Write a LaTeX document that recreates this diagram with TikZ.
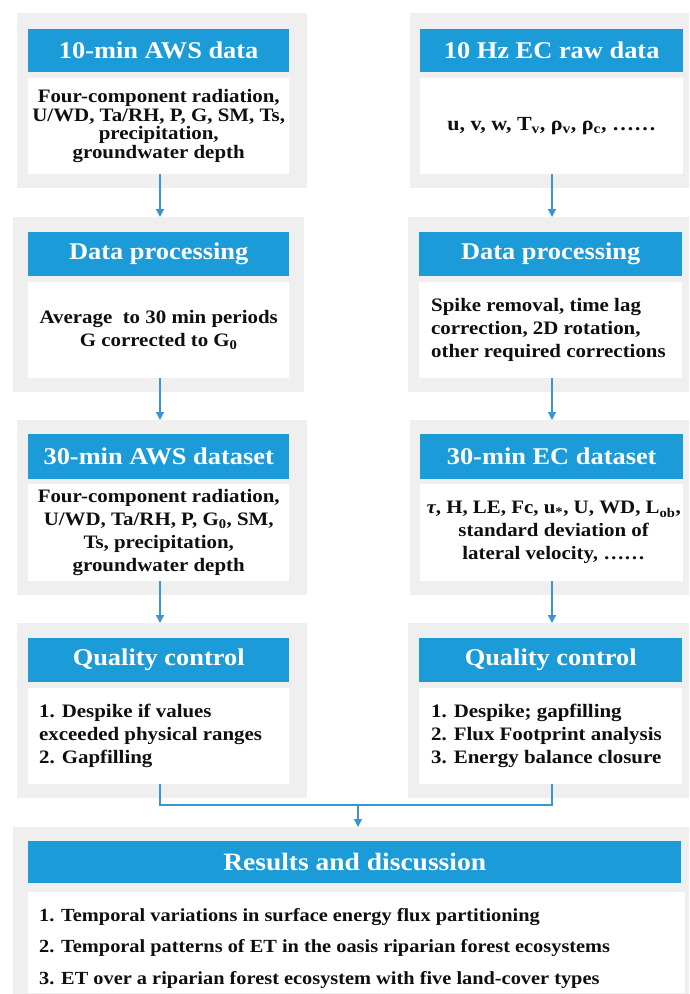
\documentclass[tikz,border=0pt]{standalone}
\usepackage{fontspec}
\setmainfont{Liberation Serif}[FakeStretch=1.1]
\usetikzlibrary{arrows.meta}
\definecolor{hdrblue}{RGB}{27,155,215}
\definecolor{panelgrey}{RGB}{239,239,239}
\definecolor{lineblue}{RGB}{58,150,210}
\definecolor{ink}{RGB}{15,15,15}
\begin{document}
\begin{tikzpicture}[x=1pt,y=-1pt,
  panel/.style={fill=panelgrey,draw=none,inner sep=0pt,anchor=north west},
  hdr/.style={fill=hdrblue,draw=none,inner sep=0pt,anchor=north west,text=white,
    font=\fontsize{24}{28}\selectfont\bfseries},
  bodybox/.style={fill=white,draw=none,inner sep=0pt,anchor=north west},
  btext/.style={text=ink,inner sep=0pt,font=\fontsize{19}{18.5}\selectfont\bfseries},
  btextwide/.style={text=ink,inner sep=0pt,font=\fontsize{19}{23}\selectfont\bfseries},
  conn/.style={draw=lineblue,line width=1.4pt},
  arr/.style={conn,-{Triangle[width=8pt,length=8pt]}}]
\useasboundingbox (0,0) rectangle (689,994);
\fill[white] (0,0) rectangle (689,994);

% ---------- Row 1 ----------
\node[panel,minimum width=290,minimum height=175] (pA1) at (17,13) {};
\node[hdr,minimum width=261,minimum height=43] (hA1) at (28,29) {10-min AWS data};
\node[bodybox,minimum width=261,minimum height=96] (bA1) at (28,78) {};
\node[btext,align=center] (tA1) at (bA1.center) {Four-component radiation,\\U/WD, Ta/RH, P, G, SM, Ts,\\precipitation,\\groundwater depth};

\node[panel,minimum width=279,minimum height=175] (pB1) at (410,13) {};
\node[hdr,minimum width=263,minimum height=43] (hB1) at (420,29) {10 Hz EC raw data};
\node[bodybox,minimum width=263,minimum height=96] (bB1) at (420,78) {};
\node[btext,align=center,font=\fontsize{20}{20}\selectfont\bfseries] (tB1) at (bB1.center) {u, v, w, T\textsubscript{v}, ρ\textsubscript{v}, ρ\textsubscript{c}, ……};

% ---------- Row 2 ----------
\node[panel,minimum width=291,minimum height=175] (pA2) at (13,217) {};
\node[hdr,minimum width=261,minimum height=44] (hA2) at (28,232) {Data processing};
\node[bodybox,minimum width=261,minimum height=96] (bA2) at (28,282) {};
\node[btextwide,align=center] (tA2) at (bA2.center) {Average\ \ to 30 min periods\\G corrected to G\textsubscript{0}};

\node[panel,minimum width=281,minimum height=175] (pB2) at (408,217) {};
\node[hdr,minimum width=263,minimum height=44] (hB2) at (419,232) {Data processing};
\node[bodybox,minimum width=263,minimum height=96] (bB2) at (419,282) {};
\node[btextwide,align=left,anchor=west] (tB2) at ([xshift=12pt]bB2.west) {Spike removal, time lag\\correction, 2D rotation,\\other required corrections};

% ---------- Row 3 ----------
\node[panel,minimum width=290,minimum height=175] (pA3) at (17,420) {};
\node[hdr,minimum width=261,minimum height=45] (hA3) at (28,434) {30-min AWS dataset};
\node[bodybox,minimum width=261,minimum height=97] (bA3) at (28,484) {};
\node[btextwide,align=center] (tA3) at (bA3.center) {Four-component radiation,\\U/WD, Ta/RH, P, G\textsubscript{0}, SM,\\Ts, precipitation,\\groundwater depth};

\node[panel,minimum width=279,minimum height=175] (pB3) at (410,420) {};
\node[hdr,minimum width=263,minimum height=45] (hB3) at (420,434) {30-min EC dataset};
\node[bodybox,minimum width=263,minimum height=97] (bB3) at (420,484) {};
\node[btextwide,align=center] (tB3) at ([xshift=2pt]bB3.center) {\textit{τ}, H, LE, Fc, u\textsubscript{*}, U, WD, L\textsubscript{ob},\\standard deviation of\\lateral velocity, ……};

% ---------- Row 4 ----------
\node[panel,minimum width=290,minimum height=175] (pA4) at (17,623) {};
\node[hdr,minimum width=261,minimum height=44] (hA4) at (28,638) {Quality control};
\node[bodybox,minimum width=261,minimum height=96] (bA4) at (28,688) {};
\node[btextwide,align=left,anchor=west] (tA4) at ([xshift=11pt]bA4.west) {1. Despike if values\\exceeded physical ranges\\2. Gapfilling};

\node[panel,minimum width=281,minimum height=175] (pB4) at (408,623) {};
\node[hdr,minimum width=263,minimum height=44] (hB4) at (419,638) {Quality control};
\node[bodybox,minimum width=263,minimum height=96] (bB4) at (419,688) {};
\node[btextwide,align=left,anchor=west] (tB4) at ([xshift=12pt]bB4.west) {1. Despike; gapfilling\\2. Flux Footprint analysis\\3. Energy balance closure};

% ---------- Bottom ----------
\node[panel,minimum width=676,minimum height=167] (pR) at (13,827) {};
\node[hdr,minimum width=653,minimum height=42,font=\fontsize{25}{28}\selectfont\bfseries] (hR) at (28,841) {Results and discussion};
\node[bodybox,minimum width=657,minimum height=101] (bR) at (28,892) {};
\node[btextwide,align=left,anchor=north west,font=\fontsize{18.5}{31.5}\selectfont\bfseries] (tR) at (39,908) {1. Temporal variations in surface energy flux partitioning\\2. Temporal patterns of ET in the oasis riparian forest ecosystems\\3. ET over a riparian forest ecosystem with five land-cover types};

% ---------- Connectors ----------
\draw[arr] (bA1.south -| 160,0) -- (pA2.north -| 160,0);
\draw[arr] (bA2.south -| 160,0) -- (pA3.north -| 160,0);
\draw[arr] (bA3.south -| 160,0) -- (pA4.north -| 160,0);
\draw[arr] (bB1.south -| 552,0) -- (pB2.north -| 552,0);
\draw[arr] (bB2.south -| 552,0) -- (pB3.north -| 552,0);
\draw[arr] (bB3.south -| 552,0) -- (pB4.north -| 552,0);
\coordinate (jn) at (358,805);
\draw[conn] (bA4.south -| 160,0) |- (jn) -| (bB4.south -| 552,0);
\draw[arr] (jn) -- (pR.north -| jn);
\end{tikzpicture}
\end{document}
